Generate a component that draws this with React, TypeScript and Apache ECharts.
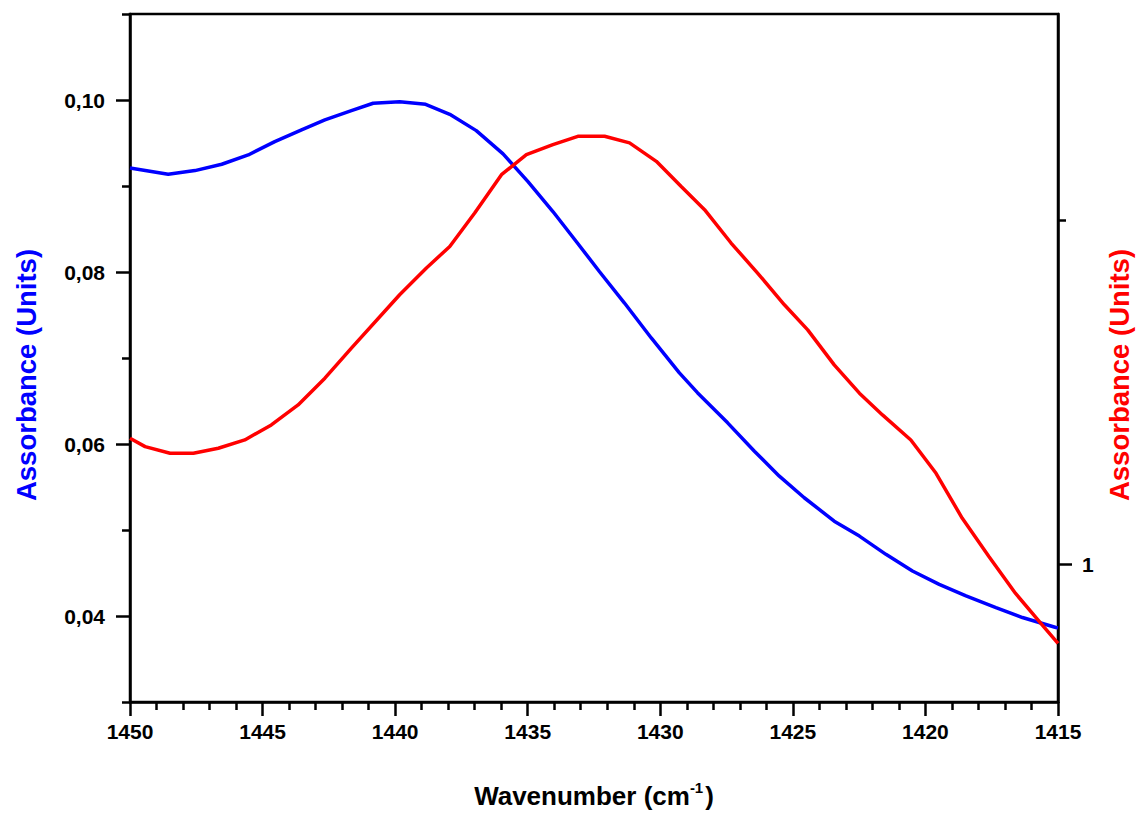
import React, { useEffect, useRef } from "react";
import * as echarts from "echarts";

// Blue spectrum (left axis)
const blueWavenumber = [
  1450.0, 1448.56, 1447.55, 1446.54, 1445.54, 1444.54, 1443.53, 1442.65, 1441.65,
  1440.83, 1439.83, 1438.85, 1437.94, 1436.94, 1435.93, 1434.99, 1434.05, 1433.17,
  1432.29, 1431.35, 1430.34, 1429.28, 1428.59, 1427.46, 1426.45, 1425.51, 1424.57,
  1423.44, 1422.49, 1421.49, 1420.49, 1419.48, 1418.47, 1417.34, 1416.34, 1415.08,
  1415.0,
];
const blueAbsorbance = [
  0.0921, 0.09137, 0.09179, 0.09253, 0.09361, 0.09516, 0.09652, 0.09768, 0.09876,
  0.09962, 0.0998, 0.0995, 0.09834, 0.09644, 0.09373, 0.09051, 0.08703, 0.08355,
  0.08003, 0.07639, 0.07233, 0.06827, 0.06594, 0.06246, 0.05916, 0.05626, 0.05375,
  0.05103, 0.04929, 0.04717, 0.04523, 0.04368, 0.04233, 0.04098, 0.03982, 0.03866,
  0.03862,
];

// Red spectrum (right axis)
const redWavenumber = [
  1450.0, 1449.43, 1448.49, 1447.61, 1446.67, 1445.67, 1444.67, 1443.66, 1442.65,
  1441.65, 1439.83, 1438.82, 1437.94, 1437.0, 1435.99, 1435.05, 1434.05, 1433.11,
  1432.1, 1431.16, 1430.15, 1429.22, 1428.33, 1427.33, 1426.33, 1425.32, 1424.44,
  1423.44, 1422.49, 1421.62, 1420.55, 1419.6, 1418.61, 1417.6, 1416.6, 1415.59,
  1415.0,
];
const redAbsorbance = [
  1.3667, 1.3423, 1.323, 1.323, 1.3376, 1.3618, 1.4054, 1.4636, 1.5413,
  1.6286, 1.7838, 1.8615, 1.9243, 2.0215, 2.133, 2.1912, 2.2203, 2.2445,
  2.2445, 2.2253, 2.1717, 2.099, 2.0311, 1.9342, 1.8469, 1.7547, 1.6819,
  1.58, 1.4977, 1.4345, 1.3618, 1.2648, 1.1339, 1.0221, 0.9156, 0.8233,
  0.7701,
];

const leftMajorTicks = [0.04, 0.06, 0.08, 0.1];
const leftMinorTicks = [0.03, 0.05, 0.07, 0.09, 0.11];
const rightMajorTicks = [1];
const rightMinorTicks = [2];

const FONT = "'Liberation Sans', Arial, sans-serif";

export default function App() {
  const ref = useRef<HTMLDivElement>(null);
  useEffect(() => {
    if (!ref.current) return;
    const chart = echarts.init(ref.current, null, { renderer: "svg" });
    const blueData = blueWavenumber.map((w, i) => [w, blueAbsorbance[i]]);
    const redData = redWavenumber.map((w, i) => [w, redAbsorbance[i]]);
    const axisLine = { show: true, lineStyle: { color: "#000", width: 2.5 } };
    const tickStyle = { color: "#000", width: 2.5 };
    chart.setOption({
      animation: false,
      backgroundColor: "#fff",
      grid: {
        left: 130,
        top: 14,
        right: 79,
        bottom: 114,
        show: true,
        borderColor: "#000",
        borderWidth: 2.5,
        containLabel: false,
        outerBoundsMode: "none",
      },
      xAxis: {
        type: "value",
        min: 1415,
        max: 1450,
        interval: 5,
        inverse: true,
        name: "{a|Wavenumber (cm}{b|-1}{a|)}",
        nameLocation: "middle",
        nameGap: 78,
        nameTextStyle: {
          rich: {
            a: { fontSize: 26, fontWeight: "bold", fontFamily: FONT, color: "#000" },
            b: {
              fontSize: 15,
              fontWeight: "bold",
              fontFamily: FONT,
              color: "#000",
              padding: [0, 2, 17, 0],
            },
          },
        },
        axisLine,
        axisTick: { show: true, length: 14, lineStyle: tickStyle },
        minorTick: { show: true, splitNumber: 5, length: 8, lineStyle: tickStyle },
        axisLabel: {
          margin: 19,
          fontSize: 21,
          fontWeight: "bold",
          fontFamily: FONT,
          color: "#000",
          formatter: (v: number) => String(v),
        },
        splitLine: { show: false },
        minorSplitLine: { show: false },
      },
      yAxis: [
        {
          type: "value",
          position: "left",
          min: 0.03,
          max: 0.11,
          name: "Assorbance (Units)",
          nameLocation: "middle",
          nameRotate: 90,
          nameGap: 90,
          nameTextStyle: {
            color: "#0000ff",
            fontSize: 27.5,
            fontWeight: "bold",
            fontFamily: FONT,
            padding: [0, 34, 0, 0],
          },
          axisLine,
          axisTick: {
            show: true,
            length: 14,
            customValues: leftMajorTicks,
            lineStyle: tickStyle,
          },
          axisLabel: {
            customValues: leftMajorTicks,
            margin: 25,
            fontSize: 21,
            fontWeight: "bold",
            fontFamily: FONT,
            color: "#000",
            formatter: (v: number) => v.toFixed(2).replace(".", ","),
          },
          splitLine: { show: false },
        },
        {
          type: "value",
          position: "right",
          min: 0.6,
          max: 2.6,
          name: "Assorbance (Units)",
          nameLocation: "middle",
          nameRotate: 90,
          nameGap: 47,
          nameTextStyle: {
            color: "#ff0000",
            fontSize: 27.5,
            fontWeight: "bold",
            fontFamily: FONT,
            padding: [0, 34, 0, 0],
          },
          axisLine,
          axisTick: {
            show: true,
            length: 14,
            customValues: rightMajorTicks,
            lineStyle: tickStyle,
          },
          axisLabel: {
            customValues: rightMajorTicks,
            margin: 24,
            fontSize: 21,
            fontWeight: "bold",
            fontFamily: FONT,
            color: "#000",
          },
          splitLine: { show: false },
        },
        {
          type: "value",
          position: "left",
          min: 0.03,
          max: 0.11,
          axisLine: { show: false },
          axisTick: {
            show: true,
            length: 8,
            customValues: leftMinorTicks,
            lineStyle: tickStyle,
          },
          axisLabel: { show: false },
          splitLine: { show: false },
        },
        {
          type: "value",
          position: "right",
          min: 0.6,
          max: 2.6,
          axisLine: { show: false },
          axisTick: {
            show: true,
            length: 8,
            customValues: rightMinorTicks,
            lineStyle: tickStyle,
          },
          axisLabel: { show: false },
          splitLine: { show: false },
        },
      ],
      series: [
        {
          type: "line",
          name: "blue",
          yAxisIndex: 0,
          data: blueData,
          showSymbol: false,
          lineStyle: { color: "#0000ff", width: 3.5 },
          itemStyle: { color: "#0000ff" },
        },
        {
          type: "line",
          name: "red",
          yAxisIndex: 1,
          data: redData,
          showSymbol: false,
          lineStyle: { color: "#ff0000", width: 3.5 },
          itemStyle: { color: "#ff0000" },
        },
      ],
    });
    return () => chart.dispose();
  }, []);
  return (
    <div
      ref={ref}
      style={{ position: "absolute", left: 0, top: 0, width: 1137, height: 816 }}
    />
  );
}
